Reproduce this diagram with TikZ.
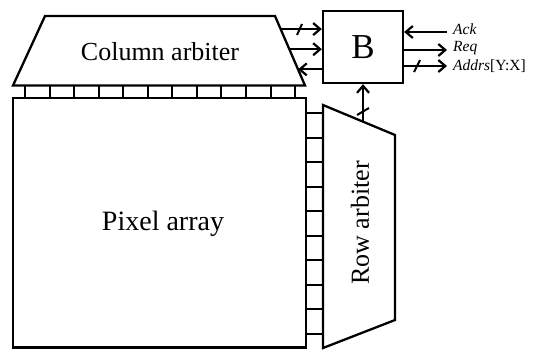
\documentclass[tikz,border=0pt]{standalone}
\usepackage{fontspec}
\setmainfont{Liberation Serif}
\usetikzlibrary{arrows.meta,calc}
\begin{document}
\begin{tikzpicture}[x=1pt,y=-1pt,
  ln/.style={line width=2.3pt},
  thin/.style={line width=2pt},
  arr/.style={line width=2.2pt,-{Straight Barb[length=7pt,width=12pt,line width=2.2pt]}},
  slash/.style={line width=2pt},
  lbl/.style={font=\fontsize{15.5}{17}\selectfont\itshape,anchor=west,inner sep=0pt}]
\useasboundingbox (0,0) rectangle (534,349);
% column arbiter
\coordinate (ctl) at (45,16);
\coordinate (ctr) at (275,16);
\coordinate (cbr) at (305,85.5);
\coordinate (cbl) at (13,85.5);
\draw[ln,line join=miter] (ctl) -- (ctr) -- (cbr) -- (cbl) -- cycle;
\node[font=\fontsize{26}{28}\selectfont] (colt) at (160,52) {Column arbiter};
% pixel array
\draw[ln] (13,98) rectangle (306,347.5);
\node[font=\fontsize{28}{30}\selectfont] (pix) at (163,224) {Pixel array};
% column squares
\foreach \k in {0,...,11} {
  \draw[thin] (25+24.55*\k,85.5) -- (25+24.55*\k,98);
}
% row arbiter
\coordinate (rtl) at (323,105);
\coordinate (rtr) at (395,135);
\coordinate (rbr) at (395,320);
\coordinate (rbl) at (323,348);
\draw[ln,line join=miter] (rtl) -- (rtr) -- (rbr) -- (rbl) -- cycle;
\node[font=\fontsize{26}{28}\selectfont,rotate=90] (rowt) at (360,223) {Row arbiter};
% row squares
\foreach \k in {0,...,9} {
  \draw[thin] (306,113+24.5*\k) -- (323,113+24.5*\k);
}
% B box
\node[draw,ln,minimum width=80pt,minimum height=72pt,inner sep=0pt,
  font=\fontsize{35}{36}\selectfont] (B) at (363,47) {B};
% arrows between column arbiter and B
\coordinate (a1) at ($(ctr)!0.188!(cbr)$);
\coordinate (a2) at ($(ctr)!0.478!(cbr)$);
\coordinate (a3) at ($(ctr)!0.768!(cbr)$);
\draw[arr] (a1) -- (a1 -| B.west);
\draw[slash] (297,35) -- (302,24);
\draw[arr] (a2) -- (a2 -| B.west);
\draw[arr] (a3 -| B.west) -- (a3);
% vertical arrow from row arbiter to B
\coordinate (v1) at ($(rtl)!0.556!(rtr)$);
\draw[arr] (v1) -- (v1 |- B.south);
\draw[slash] (357,115) -- (369,108);
% right side
\coordinate (ackE) at (447,32);
\coordinate (reqE) at (447,50);
\coordinate (adrE) at (447,66);
\draw[arr] (ackE) -- (ackE -| B.east);
\draw[arr] (reqE -| B.east) -- (reqE);
\draw[arr] (adrE -| B.east) -- (adrE);
\draw[slash] (414,72) -- (420,60);
\node[lbl] (ack) at (453,29) {Ack};
\node[lbl] (req) at (453,48) {Req};
\node[lbl] (adr) at (453,66) {Addrs{\upshape[Y:X]}};
\end{tikzpicture}
\end{document}
